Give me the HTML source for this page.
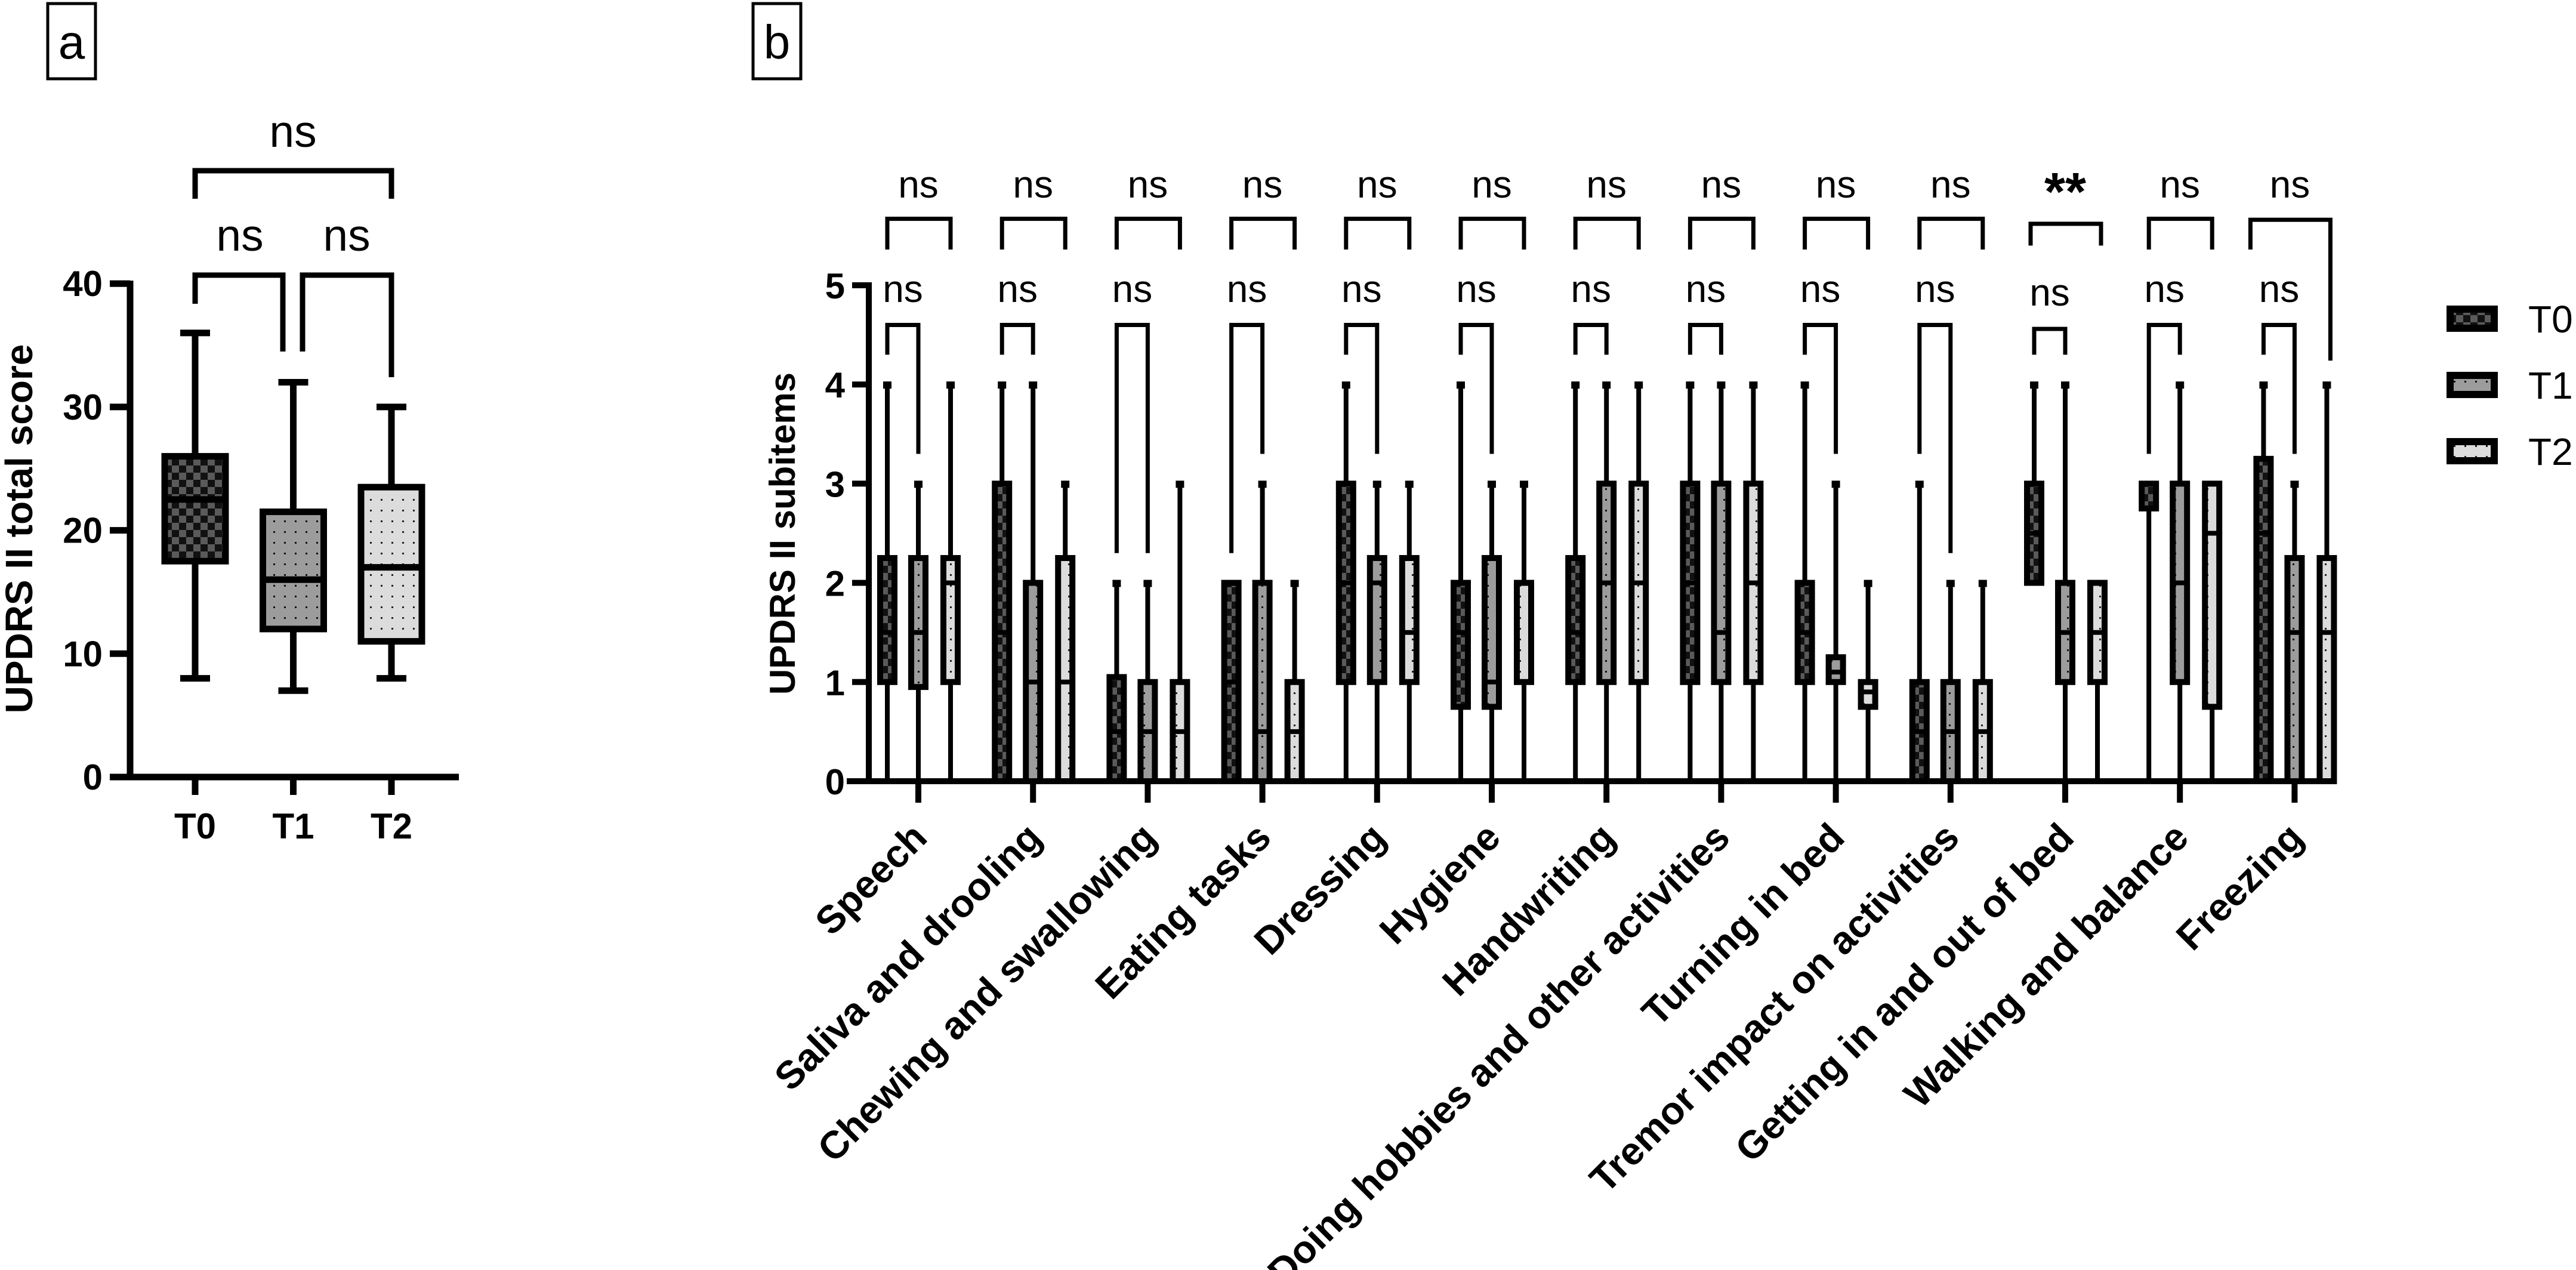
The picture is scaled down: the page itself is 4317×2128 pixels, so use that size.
<!DOCTYPE html>
<html><head><meta charset="utf-8"><style>
html,body{margin:0;padding:0;background:#fff;}
svg{display:block;font-family:"Liberation Sans",Arial,sans-serif;}
</style></head><body>
<svg id="fig" width="4317" height="2128" viewBox="0 0 4317 2128" xmlns="http://www.w3.org/2000/svg">
<defs>
<pattern id="pT0" width="24" height="24" patternUnits="userSpaceOnUse"><rect width="24" height="24" fill="#5a5a5a"/><rect width="12" height="12" fill="#111"/><rect x="12" y="12" width="12" height="12" fill="#111"/></pattern>
<pattern id="pT1" width="18" height="18" patternUnits="userSpaceOnUse"><rect width="18" height="18" fill="#9c9c9c"/><rect x="8" y="8" width="3" height="3" fill="#111"/></pattern>
<pattern id="pT2" width="18" height="18" patternUnits="userSpaceOnUse"><rect width="18" height="18" fill="#dcdcdc"/><rect x="8" y="8" width="3" height="3" fill="#222"/></pattern>
</defs>
<g><rect x="80" y="6" width="80" height="126" fill="none" stroke="#000" stroke-width="5"/><text x="120" y="98" font-size="80" text-anchor="middle">a</text></g>
<g><rect x="1262" y="6" width="80" height="126" fill="none" stroke="#000" stroke-width="5"/><text x="1302" y="98" font-size="80" text-anchor="middle">b</text></g>
<g id="pa"></g>
<g id="pb"></g>
</svg>
<script>
// Panel a data
const aGroups = ["T0","T1","T2"];
const aStats = [[8,17.5,22.5,26,36],[7,12,16,21.5,32],[8,11,17,23.5,30]];
const aTicks = [0,10,20,30,40];
// Panel b data
const bCategories = ["Speech","Saliva and drooling","Chewing and swallowing","Eating tasks","Dressing","Hygiene","Handwriting","Doing hobbies and other activities","Turning in bed","Tremor impact on activities","Getting in and out of bed","Walking and balance","Freezing"];
const bT0 = [[0,1,1.5,2.25,4],[0,0,1.5,3,4],[0,0,0.5,1.05,2],[0,0,1,2,2],[0,1,2,3,4],[0,0.75,1.5,2,4],[0,1,1.5,2.25,4],[0,1,2,3,4],[0,1,1.5,2,4],[0,0,0.5,1,3],[2,2,2.5,3,4],[0,2.75,3,3,3],[0,0,2.5,3.25,4]];
const bT1 = [[0,0.95,1.5,2.25,3],[0,0,1,2,4],[0,0,0.5,1,2],[0,0,0.5,2,3],[0,1,2,2.25,3],[0,0.75,1,2.25,3],[0,1,2,3,4],[0,1,1.5,3,4],[0,1,1.1,1.25,3],[0,0,0.5,1,2],[0,1,1.5,2,4],[0,1,2,3,4],[0,0,1.5,2.25,3]];
const bT2 = [[0,1,2,2.25,4],[0,0,1,2.25,3],[0,0,0.5,1,3],[0,0,0.5,1,2],[0,1,1.5,2.25,3],[0,1,1,2,3],[0,1,2,3,4],[0,1,2,3,4],[0,0.75,0.9,1,2],[0,0,0.5,1,2],[0,1,1.5,2,2],[0,0.75,2.5,3,3],[0,0,1.5,2.25,4]];
const bTicks = [0,1,2,3,4,5];
const bLowerLegs = [[4.3,3.3],[4.3,4.3],[2.3,2.3],[2.3,3.3],[4.3,3.3],[4.3,3.3],[4.3,4.3],[4.3,4.3],[4.3,3.3],[3.3,2.3],[4.3,4.3],[3.3,4.3],[4.3,3.3]];
const bTopLabels = ["ns","ns","ns","ns","ns","ns","ns","ns","ns","ns","**","ns","ns"];
const bLowerLabels = ["ns","ns","ns","ns","ns","ns","ns","ns","ns","ns","ns","ns","ns"];

const NS="http://www.w3.org/2000/svg";
function mk(parent,tag,attrs){const e=document.createElementNS(NS,tag);for(const k in attrs)e.setAttribute(k,attrs[k]);parent.appendChild(e);return e;}

// ---------- Panel a ----------
const pa=document.getElementById('pa');
const ay=v=>1302-20.67*v;
const ax=i=>327+164.5*i;
mk(pa,'line',{x1:218,y1:ay(40)-5,x2:218,y2:1302,stroke:'#000','stroke-width':11});
mk(pa,'line',{x1:184,y1:1302,x2:769,y2:1302,stroke:'#000','stroke-width':11});
aTicks.forEach(t=>{
  const l=mk(pa,'line',{x1:184,y1:ay(t),x2:218,y2:ay(t),stroke:'#000','stroke-width':11});
  
  
  const tx=mk(pa,'text',{x:172,y:ay(t)+21,'font-size':60,'font-weight':'bold','text-anchor':'end'});
  tx.textContent=t;
  
  
});
const at=mk(pa,'text',{x:0,y:0,'font-size':64,'font-weight':'bold','text-anchor':'middle',transform:'translate(54,886) rotate(-90)'});
at.textContent='UPDRS II total score';


const aFill=['url(#pT0)','url(#pT1)','url(#pT2)'];
aGroups.forEach((g,i)=>{
  const s=aStats[i],x=ax(i),w=102;
  const grp=mk(pa,'g',{});
  
  
  mk(grp,'line',{x1:x,y1:ay(s[0]),x2:x,y2:ay(s[4]),stroke:'#000','stroke-width':11});
  mk(grp,'line',{x1:x-25,y1:ay(s[0]),x2:x+25,y2:ay(s[0]),stroke:'#000','stroke-width':11});
  mk(grp,'line',{x1:x-25,y1:ay(s[4]),x2:x+25,y2:ay(s[4]),stroke:'#000','stroke-width':11});
  mk(grp,'rect',{x:x-w/2,y:ay(s[3]),width:w,height:ay(s[1])-ay(s[3]),fill:aFill[i],stroke:'#000','stroke-width':11});
  mk(grp,'line',{x1:x-w/2,y1:ay(s[2]),x2:x+w/2,y2:ay(s[2]),stroke:'#000','stroke-width':11});
  mk(pa,'line',{x1:x,y1:1302,x2:x,y2:1332,stroke:'#000','stroke-width':11});
  const tl=mk(pa,'text',{x:x,y:1405,'font-size':60,'font-weight':'bold','text-anchor':'middle'});
  tl.textContent=g;
  
  
});
function bracket(parent,x1,x2,yb,yl,yr,sw,name){
  const p=mk(parent,'path',{d:`M${x1},${yl} V${yb} H${x2} V${yr}`,fill:'none',stroke:'#000','stroke-width':sw});
  
  
}
function label(parent,x,y,txt,fs,bold,name){
  const t=mk(parent,'text',{x:x,y:y,'font-size':fs,'text-anchor':'middle','font-weight':bold?'bold':'normal'});
  t.textContent=txt;
  
  
}
bracket(pa,327,656,286,333,333,9,'a-bracket-t0-t2');
label(pa,491,246,'ns',75,false,'a-sig-t0-t2');
bracket(pa,327,474,461,509,589,9,'a-bracket-t0-t1');
label(pa,402,420,'ns',75,false,'a-sig-t0-t1');
bracket(pa,507,656,461,589,632,9,'a-bracket-t1-t2');
label(pa,581,420,'ns',75,false,'a-sig-t1-t2');

// ---------- Panel b ----------
const pb=document.getElementById('pb');
const by=v=>1309-166.2*v;
const bx=i=>1539+192.2*i;
const offs=[-52,0,54];
mk(pb,'line',{x1:1456,y1:by(5)-5,x2:1456,y2:1309,stroke:'#000','stroke-width':10});
mk(pb,'line',{x1:1419,y1:1309,x2:bx(12)+70,y2:1309,stroke:'#000','stroke-width':10});
bTicks.forEach(t=>{
  const l=mk(pb,'line',{x1:1428,y1:by(t),x2:1456,y2:by(t),stroke:'#000','stroke-width':10});
  
  
  const tx=mk(pb,'text',{x:1416,y:by(t)+22,'font-size':60,'font-weight':'bold','text-anchor':'end'});
  tx.textContent=t;
  
  
});
const bt=mk(pb,'text',{x:0,y:0,'font-size':60,'font-weight':'bold','text-anchor':'middle',transform:'translate(1332,894) rotate(-90)'});
bt.textContent='UPDRS II subitems';


const series=[bT0,bT1,bT2];
bCategories.forEach((c,i)=>{
  const cx=bx(i);
  series.forEach((ser,k)=>{
    const s=ser[i],x=cx+offs[k],w=24;
    const grp=mk(pb,'g',{});
    
    
    if(s[4]>s[3]){
      mk(grp,'line',{x1:x,y1:by(s[3]),x2:x,y2:by(s[4]),stroke:'#000','stroke-width':8});
      mk(grp,'rect',{x:x-7,y:by(s[4])-5,width:14,height:12,fill:'#000'});
    }
    if(s[0]<s[1]){
      mk(grp,'line',{x1:x,y1:by(s[0]),x2:x,y2:by(s[1]),stroke:'#000','stroke-width':8});
    }
    if(s[3]>s[1]){
      mk(grp,'rect',{x:x-w/2,y:by(s[3]),width:w,height:by(s[1])-by(s[3]),fill:'url(#pT'+k+')',stroke:'#000','stroke-width':10});
      mk(grp,'line',{x1:x-w/2,y1:by(s[2]),x2:x+w/2,y2:by(s[2]),stroke:'#000','stroke-width':8});
    }
  });
  mk(pb,'line',{x1:cx,y1:1309,x2:cx,y2:1345,stroke:'#000','stroke-width':10});
  const tl=mk(pb,'text',{x:0,y:0,'font-size':65,'font-weight':'bold','text-anchor':'end',transform:`translate(${cx+18},${1407}) rotate(-45)`});
  tl.textContent=c;
  
  
  const legs=bLowerLegs[i];
  const lb=(i===10)?by(4.56):by(4.6);
  bracket(pb,cx+offs[0],cx+offs[1],lb,by(legs[0]),by(legs[1]),7,'b-bracket-t0-t1');
  label(pb,cx-26,(i===10)?512:506,bLowerLabels[i],64,false,'b-sig-t0-t1');
  if(i===10){
    bracket(pb,cx+offs[0]-6,cx+offs[2]+6,by(5.62),by(5.4),by(5.4),7,'b-bracket-t0-t2');
    label(pb,cx,352,bTopLabels[i],90,true,'b-sig-t0-t2');
  }else if(i===12){
    bracket(pb,cx+offs[0]-22,cx+offs[2]+6,by(5.66),by(5.36),by(4.24),7,'b-bracket-t0-t2');
    label(pb,cx-8,331,bTopLabels[i],64,false,'b-sig-t0-t2');
  }else{
    bracket(pb,cx+offs[0],cx+offs[2],by(5.67),by(5.36),by(5.36),7,'b-bracket-t0-t2');
    label(pb,cx,331,bTopLabels[i],64,false,'b-sig-t0-t2');
  }
});
const legNames=["T0","T1","T2"], legY=[534,645,756];
legNames.forEach((n,k)=>{
  const g=mk(pb,'g',{});
  
  
  mk(g,'rect',{x:4106,y:legY[k]-16,width:74,height:32,fill:'url(#pT'+k+')',stroke:'#000','stroke-width':12});
  const t=mk(g,'text',{x:4237,y:legY[k]+23,'font-size':64});
  t.textContent=n;
});
</script>
</body></html>
